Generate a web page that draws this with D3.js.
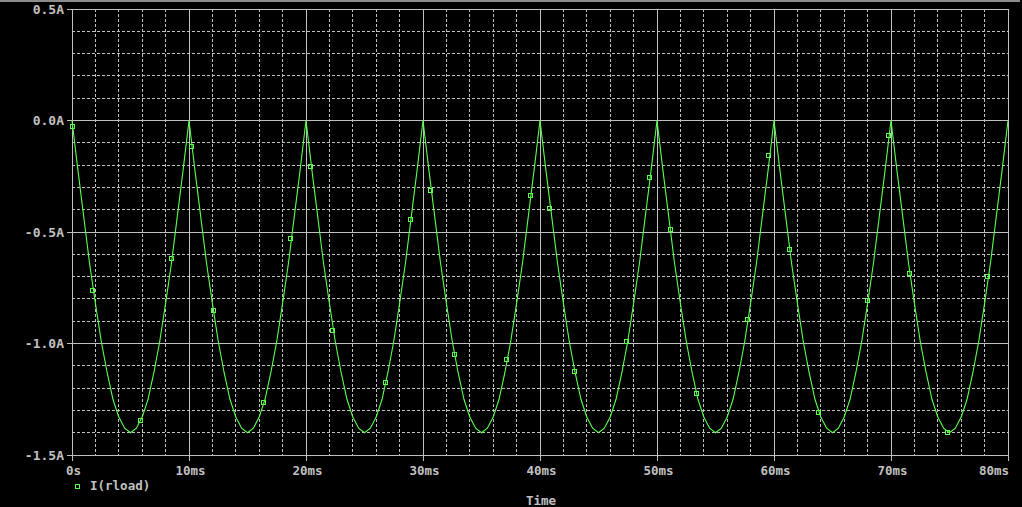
<!DOCTYPE html>
<html>
<head>
<meta charset="utf-8">
<script src="https://cdn.jsdelivr.net/npm/d3@7"></script>
<style>
html, body { margin: 0; padding: 0; background: #000; }
svg { display: block; }
text { font-family: "DejaVu Sans Mono", "Liberation Mono", monospace; font-weight: bold; fill: #c0c0c0; }
</style>
</head>
<body>
<svg id="chart" width="1022" height="507"></svg>
<script>
// ---- data ----
const stepMs = 0.5; // sampling grid of the trace
const currentA = [
  0, -0.22, -0.43, -0.64, -0.82, -0.99, -1.13, -1.25, -1.33, -1.38, -1.40, -1.38, -1.33, -1.25, -1.13, -0.99, -0.82, -0.64, -0.43, -0.22, 0,
  -0.22, -0.43, -0.64, -0.82, -0.99, -1.13, -1.25, -1.33, -1.38, -1.40, -1.38, -1.33, -1.25, -1.13, -0.99, -0.82, -0.64, -0.43, -0.22, 0,
  -0.22, -0.43, -0.64, -0.82, -0.99, -1.13, -1.25, -1.33, -1.38, -1.40, -1.38, -1.33, -1.25, -1.13, -0.99, -0.82, -0.64, -0.43, -0.22, 0,
  -0.22, -0.43, -0.64, -0.82, -0.99, -1.13, -1.25, -1.33, -1.38, -1.40, -1.38, -1.33, -1.25, -1.13, -0.99, -0.82, -0.64, -0.43, -0.22, 0,
  -0.22, -0.43, -0.64, -0.82, -0.99, -1.13, -1.25, -1.33, -1.38, -1.40, -1.38, -1.33, -1.25, -1.13, -0.99, -0.82, -0.64, -0.43, -0.22, 0,
  -0.22, -0.43, -0.64, -0.82, -0.99, -1.13, -1.25, -1.33, -1.38, -1.40, -1.38, -1.33, -1.25, -1.13, -0.99, -0.82, -0.64, -0.43, -0.22, 0,
  -0.22, -0.43, -0.64, -0.82, -0.99, -1.13, -1.25, -1.33, -1.38, -1.40, -1.38, -1.33, -1.25, -1.13, -0.99, -0.82, -0.64, -0.43, -0.22, 0,
  -0.22, -0.43, -0.64, -0.82, -0.99, -1.13, -1.25, -1.33, -1.38, -1.40, -1.38, -1.33, -1.25, -1.13, -0.99, -0.82, -0.64, -0.43, -0.22, 0
];
const markerTimeMs = [0.11, 1.82, 5.92, 8.57, 10.28, 12.16, 16.43, 18.74, 20.45, 22.33, 26.86, 29.00, 30.71, 32.76, 37.21, 39.26, 40.88, 43.02, 47.46, 49.43, 51.22, 53.44, 57.80, 59.60, 61.39, 63.87, 68.06, 69.85, 71.65, 74.90, 78.32];
const markerCurrentA = [-0.030, -0.766, -1.349, -0.622, -0.120, -0.856, -1.268, -0.533, -0.210, -0.945, -1.178, -0.448, -0.317, -1.053, -1.075, -0.340, -0.398, -1.129, -0.995, -0.259, -0.492, -1.228, -0.896, -0.161, -0.582, -1.313, -0.811, -0.071, -0.690, -1.401, -0.703];
const xTicks = [0, 10, 20, 30, 40, 50, 60, 70, 80];
const xTickLabels = ["0s", "10ms", "20ms", "30ms", "40ms", "50ms", "60ms", "70ms", "80ms"];
const xMinor = [2, 4, 6, 8, 12, 14, 16, 18, 22, 24, 26, 28, 32, 34, 36, 38, 42, 44, 46, 48, 52, 54, 56, 58, 62, 64, 66, 68, 72, 74, 76, 78];
const yTicks = [0.5, 0.0, -0.5, -1.0, -1.5];
const yTickLabels = ["0.5A", "0.0A", "-0.5A", "-1.0A", "-1.5A"];
const yMinor = [0.4, 0.3, 0.2, 0.1, -0.1, -0.2, -0.3, -0.4, -0.6, -0.7, -0.8, -0.9, -1.1, -1.2, -1.3, -1.4];
const seriesName = "I(rload)";
const xTitle = "Time";

// ---- drawing ----
const svg = d3.select("#chart");
const x = d3.scaleLinear().domain([0, 80]).range([72, 1008]);
const y = d3.scaleLinear().domain([-1.5, 0.5]).range([455, 9]);
const px = v => Math.floor(v) + 0.5;
const grid = "#c0c0c0";
const green = "#5cff50";

svg.append("rect").attr("width", 1022).attr("height", 507).attr("fill", "#000");
// window top edge
svg.append("rect").attr("x", 0).attr("y", 0).attr("width", 1020).attr("height", 2).attr("fill", "#8c8c8c");

const g = svg.append("g").attr("shape-rendering", "crispEdges");
const [x0, x1] = x.range();
const [yb, yt] = y.range();

// minor grid
g.selectAll(".vmin").data(xMinor).join("line")
  .attr("x1", d => px(x(d))).attr("x2", d => px(x(d)))
  .attr("y1", yt).attr("y2", yb)
  .attr("stroke", grid).attr("stroke-dasharray", "3,2");
g.selectAll(".hmin").data(yMinor).join("line")
  .attr("x1", x0).attr("x2", x1)
  .attr("y1", d => px(y(d))).attr("y2", d => px(y(d)))
  .attr("stroke", grid).attr("stroke-dasharray", "3,2");

// major grid + ticks
g.selectAll(".vmaj").data(xTicks).join("line")
  .attr("x1", d => px(x(d))).attr("x2", d => px(x(d)))
  .attr("y1", yt).attr("y2", yb + 6)
  .attr("stroke", grid);
g.selectAll(".hmaj").data(yTicks).join("line")
  .attr("x1", x0 - 5).attr("x2", x1 + 1)
  .attr("y1", d => px(y(d))).attr("y2", d => px(y(d)))
  .attr("stroke", grid);

// y labels
svg.selectAll(".ylab").data(yTicks).join("text")
  .attr("x", 64).attr("y", d => Math.floor(y(d)) + 5)
  .attr("text-anchor", "end").attr("font-size", 13)
  .text((d, i) => yTickLabels[i]);

// x labels
svg.selectAll(".xlab").data(xTicks).join("text")
  .attr("x", (d, i) => i === xTicks.length - 1 ? x(d) + 1 : x(d) + 1.5)
  .attr("y", 475)
  .attr("text-anchor", (d, i) => i === xTicks.length - 1 ? "end" : "middle")
  .attr("font-size", 12.5)
  .text((d, i) => xTickLabels[i]);

// trace
const pts = currentA.map((v, i) => [i * stepMs, v]);
svg.append("path")
  .datum(pts)
  .attr("fill", "none").attr("stroke", green).attr("stroke-width", 1.1)
  .attr("d", d3.line().x(d => x(d[0])).y(d => y(d[1])));

// markers
const markers = markerTimeMs.map((t, i) => [t, markerCurrentA[i]]);
svg.append("g").attr("shape-rendering", "crispEdges")
  .selectAll("rect").data(markers).join("rect")
  .attr("x", d => Math.round(x(d[0])) - 2.5)
  .attr("y", d => Math.round(y(d[1])) - 2.5)
  .attr("width", 4).attr("height", 4)
  .attr("fill", "none").attr("stroke", green);

// legend
svg.append("rect").attr("shape-rendering", "crispEdges")
  .attr("x", 75.5).attr("y", 484.5).attr("width", 4).attr("height", 4)
  .attr("fill", "none").attr("stroke", green);
svg.append("text").attr("x", 90).attr("y", 490).attr("font-size", 12.5).text(seriesName);

// axis title
svg.append("text").attr("x", (x0 + x1) / 2 + 1).attr("y", 505)
  .attr("text-anchor", "middle").attr("font-size", 12.5).text(xTitle);
</script>
</body>
</html>
